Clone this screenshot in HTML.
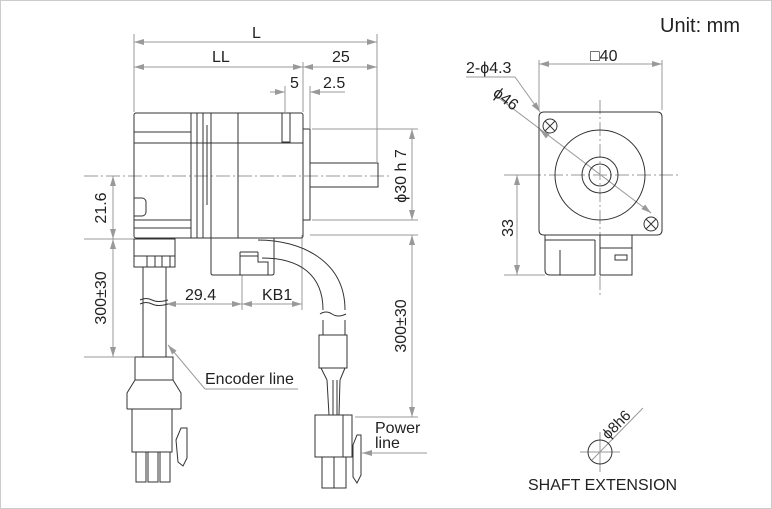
<!DOCTYPE html>
<html><head><meta charset="utf-8"><style>
html,body{margin:0;padding:0;background:#fff;}
svg{display:block;}
text{font-family:"Liberation Sans",sans-serif;fill:#222;}
</style></head><body>
<svg width="772" height="509" viewBox="0 0 772 509" xmlns="http://www.w3.org/2000/svg">
<defs>
<marker id="a" viewBox="0 0 10 6" refX="10" refY="3" markerWidth="10" markerHeight="6" orient="auto-start-reverse" markerUnits="userSpaceOnUse"><path d="M0,0L10,3L0,6z" fill="#999"/></marker>
</defs>
<rect x="0.5" y="0.5" width="771" height="508" fill="none" stroke="#ccc"/>
<text x="660" y="32" font-size="20">Unit: mm</text>

<g stroke="#999" stroke-width="1" fill="none">
<line x1="134" y1="34" x2="134" y2="112"/>
<line x1="377" y1="34" x2="377" y2="162"/>
<line x1="303" y1="62" x2="303" y2="112"/>
<line x1="285" y1="86" x2="285" y2="112"/>
<line x1="310" y1="86" x2="310" y2="128"/>
<line x1="134" y1="42" x2="377" y2="42" marker-start="url(#a)" marker-end="url(#a)"/>
<line x1="134" y1="67" x2="303" y2="67" marker-start="url(#a)" marker-end="url(#a)"/>
<line x1="303" y1="67" x2="377" y2="67" marker-start="url(#a)" marker-end="url(#a)"/>
<line x1="270" y1="92" x2="285" y2="92" marker-end="url(#a)"/>
<line x1="345" y1="92" x2="310" y2="92" marker-end="url(#a)"/>
<line x1="312" y1="129" x2="418" y2="129"/>
<line x1="312" y1="220" x2="418" y2="220"/>
<line x1="412" y1="129" x2="412" y2="220" marker-start="url(#a)" marker-end="url(#a)"/>
<line x1="310" y1="235" x2="418" y2="235"/>
<line x1="355" y1="417" x2="418" y2="417"/>
<line x1="412" y1="235" x2="412" y2="417" marker-start="url(#a)" marker-end="url(#a)"/>
<line x1="84" y1="239" x2="134" y2="239"/>
<line x1="84" y1="357" x2="134" y2="357"/>
<line x1="113" y1="176" x2="113" y2="239" marker-start="url(#a)" marker-end="url(#a)"/>
<line x1="113" y1="239" x2="113" y2="357" marker-start="url(#a)" marker-end="url(#a)"/>
<line x1="242" y1="275" x2="242" y2="310"/>
<line x1="302" y1="235" x2="302" y2="310"/>
<line x1="166" y1="304" x2="242" y2="304" marker-start="url(#a)" marker-end="url(#a)"/>
<line x1="242" y1="304" x2="302" y2="304" marker-start="url(#a)" marker-end="url(#a)"/>
<line x1="298" y1="389" x2="205" y2="389"/>
<line x1="205" y1="389" x2="168" y2="345" marker-end="url(#a)"/>
<line x1="427" y1="453" x2="362" y2="453" marker-end="url(#a)"/>
<line x1="84" y1="176" x2="392" y2="176" stroke-dasharray="14,3,2,3"/>
</g>
<g font-size="16">
<text x="252" y="38">L</text>
<text x="212" y="62">LL</text>
<text x="332" y="62">25</text>
<text x="290" y="88">5</text>
<text x="323" y="88">2.5</text>
<text x="185" y="300">29.4</text>
<text x="262" y="300">KB1</text>
<text x="205" y="384">Encoder line</text>
<text x="375" y="433">Power</text>
<text x="375" y="448">line</text>
<text transform="translate(106,208) rotate(-90)" text-anchor="middle">21.6</text>
<text transform="translate(106,298) rotate(-90)" text-anchor="middle">300±30</text>
<text transform="translate(406,326) rotate(-90)" text-anchor="middle">300±30</text>
<text transform="translate(406,176) rotate(-90)" text-anchor="middle">ϕ30 h 7</text>
</g>

<g stroke="#333" stroke-width="1" fill="none">
<rect x="134" y="113" width="169" height="125" rx="2"/>
<line x1="191" y1="113" x2="191" y2="238"/>
<line x1="197" y1="113" x2="197" y2="238"/>
<line x1="203" y1="113" x2="203" y2="238"/>
<line x1="207" y1="125" x2="207" y2="205"/>
<line x1="211" y1="113" x2="211" y2="238"/>
<line x1="238" y1="113" x2="238" y2="238"/>
<line x1="134" y1="143" x2="303" y2="143"/>
<line x1="134" y1="132" x2="191" y2="132"/>
<line x1="134" y1="220" x2="191" y2="220"/>
<line x1="134" y1="228" x2="191" y2="228"/>
<rect x="282" y="113" width="8" height="29"/>
<path d="M134,198 h8 a4,4 0 0 1 4,4 v10 a4,4 0 0 1 -4,4 h-8"/>
<rect x="303" y="129" width="7" height="91"/>
<rect x="310" y="163" width="68" height="24"/>
<path d="M211,238 V273 q0,2 2,2 H272 q2,0 2,-2 V238"/>
<path d="M240,252 h18 M240,256 h18 M240,252 v23 M258,252 v10 h10 v13"/>
<path d="M258,240 C300,240 345,260 345,310"/>
<path d="M262,258 C300,258 323,275 323,310"/>
<path d="M323,320 V335 M345,320 V335"/>
<path d="M320,314 q6,-4 12,0 t14,0"/>
<rect x="319" y="335" width="28" height="33"/>
<path d="M321,368 L327,380 M345,368 L340,380"/>
<path d="M327,380 L329,415 M333,380 L333,415 M337,380 L337,415 M340,380 L339,415"/>
<rect x="315" y="415" width="37" height="42"/>
<line x1="343" y1="415" x2="343" y2="457"/>
<rect x="322" y="457" width="12" height="31"/>
<rect x="334" y="457" width="12" height="31"/>
<path d="M353,445 l4,-10 h4 v40 l-4,8 l-4,-6 z"/>
<rect x="134" y="239" width="41" height="28"/>
<path d="M134,256 h41 M147,256 v11 M155,256 v11 M162,256 v11 M170,256 v11"/>
<line x1="143" y1="267" x2="143" y2="357"/>
<line x1="166" y1="267" x2="166" y2="357"/>
<path d="M140,300 q6,-3 12,0 t16,0 M140,304 q6,-3 12,0 t16,0"/>
<rect x="135" y="357" width="38" height="23"/>
<path d="M135,380 L127,393 V409 M173,380 L181,393 V409"/>
<path d="M127,409 H181 M132,409 V452 H172 V409"/>
<rect x="136" y="452" width="10" height="30"/>
<rect x="148" y="452" width="10" height="30"/>
<rect x="160" y="452" width="10" height="30"/>
<path d="M176,440 l5,-12 h6 v30 l-4,8 l-5,-4 z"/>
</g>

<g stroke="#999" stroke-width="1" fill="none">
<line x1="539" y1="60" x2="539" y2="110"/>
<line x1="662" y1="60" x2="662" y2="110"/>
<line x1="539" y1="64" x2="662" y2="64" marker-start="url(#a)" marker-end="url(#a)"/>
<polyline points="466,77 515,77"/>
<line x1="515" y1="77" x2="540" y2="112" marker-end="url(#a)"/>
<line x1="495" y1="95" x2="651" y2="213"/>
<line x1="540" y1="130" x2="545" y2="134" marker-start="url(#a)"/>
<line x1="651" y1="213" x2="646" y2="209" marker-start="url(#a)"/>
<line x1="504" y1="175" x2="540" y2="175"/>
<line x1="504" y1="275" x2="545" y2="275"/>
<line x1="517" y1="175" x2="517" y2="275" marker-start="url(#a)" marker-end="url(#a)"/>
<line x1="600" y1="100" x2="600" y2="295" stroke-dasharray="14,3,2,3"/>
<line x1="505" y1="175" x2="680" y2="175" stroke-dasharray="14,3,2,3"/>
</g>
<g stroke="#333" stroke-width="1" fill="none">
<path d="M545,112 H657 q5,0 5,5 V230 q0,5 -5,5 H544 q-5,0 -5,-5 V117 q0,-5 5,-5z"/>
<circle cx="600" cy="175" r="45"/>
<circle cx="600" cy="175" r="18"/>
<circle cx="600" cy="175" r="11"/>
<circle cx="550" cy="126" r="7"/>
<path d="M545,121 l10,10 M555,121 l-10,10"/>
<circle cx="651" cy="224" r="7"/>
<path d="M646,219 l10,10 M656,219 l-10,10"/>
<path d="M545,240 V270 q0,5 5,5 H595 V240 M545,235 V242 M595,240 H545 M560,250 V275 M600,235 V275 M600,248 H632 V275 H600 M615,255 h12 v5 h-12z M632,235 V248"/>
</g>
<g font-size="16">
<text x="466" y="73">2-ϕ4.3</text>
<text x="590" y="61">□40</text>
<text transform="translate(492,95) rotate(37)">ϕ46</text>
<text transform="translate(513,228) rotate(-90)" text-anchor="middle">33</text>
</g>

<g stroke="#999" stroke-width="1" fill="none">
<line x1="600" y1="432" x2="600" y2="472"/>
<line x1="580" y1="452" x2="620" y2="452"/>
<line x1="592" y1="460" x2="643" y2="408"/>
</g>
<circle cx="600" cy="452" r="12" stroke="#333" fill="none"/>
<text transform="translate(608,440) rotate(-45)" font-size="15">ϕ8h6</text>
<text x="528" y="490" font-size="16">SHAFT EXTENSION</text>
</svg>
</body></html>
